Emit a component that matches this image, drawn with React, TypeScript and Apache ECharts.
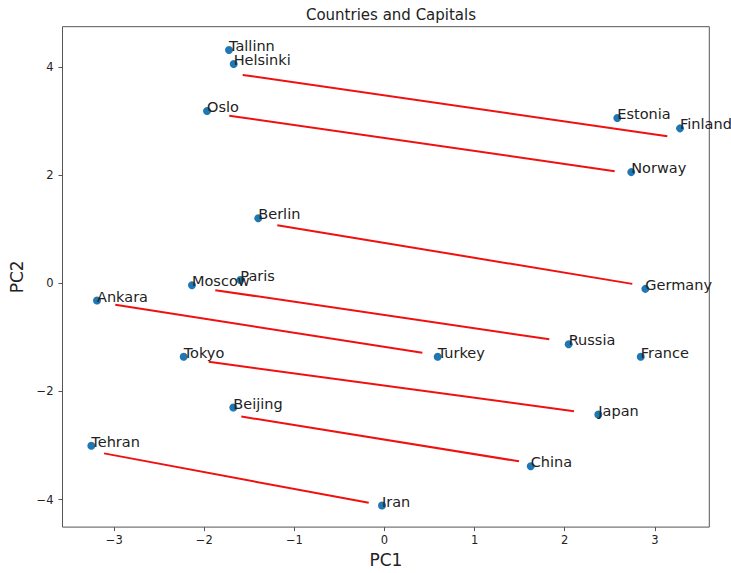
import React, { useEffect, useRef } from "react";
import * as echarts from "echarts";

// Capitals (PC1, PC2)
const capitalNames = ["Tallinn", "Helsinki", "Oslo", "Berlin", "Paris", "Moscow", "Ankara", "Tokyo", "Beijing", "Tehran"];
const capitalPC1 = [-1.726, -1.674, -1.970, -1.401, -1.600, -2.137, -3.191, -2.229, -1.678, -3.254];
const capitalPC2 = [4.319, 4.061, 3.190, 1.206, 0.064, -0.033, -0.317, -1.359, -2.298, -3.006];

// Countries (PC1, PC2)
const countryNames = ["Estonia", "Finland", "Norway", "Germany", "France", "Russia", "Turkey", "Japan", "China", "Iran"];
const countryPC1 = [2.584, 3.280, 2.739, 2.895, 2.844, 2.044, 0.590, 2.373, 1.623, -0.028];
const countryPC2 = [3.061, 2.869, 2.059, -0.101, -1.359, -1.127, -1.359, -2.427, -3.385, -4.111];

// Red connector segments (start PC1, start PC2, end PC1, end PC2)
const segStartPC1 = [-1.574, -1.723, -1.190, -1.878, -2.988, -1.951, -1.589, -3.113];
const segStartPC2 = [3.858, 3.103, 1.077, -0.125, -0.396, -1.451, -2.464, -3.146];
const segEndPC1 = [3.139, 2.555, 2.750, 1.829, 0.420, 2.103, 1.493, -0.175];
const segEndPC2 = [2.722, 2.077, -0.009, -1.035, -1.285, -2.366, -3.293, -4.061];

const tickValues = [-4, -3, -2, -1, 0, 1, 2, 3, 4];
const xTicks = tickValues.filter((v) => v >= -3 && v <= 3);
const yTicks = tickValues.filter((v) => v % 2 === 0);

const X_MIN = -3.574;
const X_MAX = 3.605;
const Y_MIN = -4.51;
const Y_MAX = 4.75;

const fmt = (v: number) => (v < 0 ? "\u2212" + Math.abs(v) : String(v));

export default function App() {
  const ref = useRef<HTMLDivElement>(null);
  useEffect(() => {
    if (!ref.current) return;
    const chart = echarts.init(ref.current, undefined, { renderer: "svg" });
    const font = "DejaVu Sans";
    const points = [
      ...capitalNames.map((n, i) => ({ name: n, value: [capitalPC1[i], capitalPC2[i]] })),
      ...countryNames.map((n, i) => ({ name: n, value: [countryPC1[i], countryPC2[i]] })),
    ];
    const segs = segStartPC1.map((_, i) => ({
      coords: [
        [segStartPC1[i], segStartPC2[i]],
        [segEndPC1[i], segEndPC2[i]],
      ],
    }));
    const axisCommon = {
      type: "value" as const,
      splitLine: { show: false },
      axisLine: { show: false, onZero: false },
    };
    chart.setOption({
      animation: false,
      backgroundColor: "#ffffff",
      title: {
        text: "Countries and Capitals",
        left: 386,
        top: 2,
        textAlign: "center",
        textStyle: { fontFamily: font, fontSize: 15, fontWeight: "normal", color: "#222" },
      },
      grid: {
        left: 62.5,
        top: 26.7,
        right: 21.7,
        bottom: 43.7,
        show: true,
        borderColor: "#555",
        borderWidth: 1,
        backgroundColor: "transparent",
      },
      xAxis: {
        ...axisCommon,
        position: "bottom",
        min: X_MIN,
        max: X_MAX,
        name: "PC1",
        nameLocation: "middle",
        nameGap: 23,
        nameTextStyle: { fontFamily: font, fontSize: 17, color: "#222" },
        axisTick: { show: true, length: 4, inside: false, lineStyle: { color: "#555" }, customValues: xTicks },
        axisLabel: {
          customValues: xTicks,
          formatter: fmt,
          fontFamily: font,
          fontSize: 11.5,
          color: "#222",
          margin: 7,
        },
      },
      yAxis: {
        ...axisCommon,
        position: "left",
        min: Y_MIN,
        max: Y_MAX,
        name: "PC2",
        nameLocation: "middle",
        nameGap: 28,
        nameTextStyle: { fontFamily: font, fontSize: 17, color: "#222" },
        axisTick: { show: true, length: 4, inside: false, lineStyle: { color: "#555" }, customValues: yTicks },
        axisLabel: {
          customValues: yTicks,
          formatter: fmt,
          fontFamily: font,
          fontSize: 11.5,
          color: "#222",
          margin: 9,
        },
      },
      series: [
        {
          type: "lines",
          coordinateSystem: "cartesian2d",
          data: segs,
          z: 1,
          silent: true,
          lineStyle: { color: "#f01010", width: 2, opacity: 1 },
        },
        {
          type: "scatter",
          data: points,
          symbolSize: 8,
          z: 3,
          itemStyle: { color: "#1f77b4", opacity: 1 },
          label: {
            show: true,
            formatter: (p: any) => p.name,
            position: [4, 7.5],
            align: "left",
            verticalAlign: "bottom",
            fontFamily: font,
            fontSize: 14.5,
            lineHeight: 15,
            color: "#222",
          },
        },
      ],
    });
    return () => chart.dispose();
  }, []);
  return (
    <div
      ref={ref}
      style={{ position: "fixed", left: 0, top: 0, width: 731, height: 573, background: "#fff" }}
    />
  );
}
